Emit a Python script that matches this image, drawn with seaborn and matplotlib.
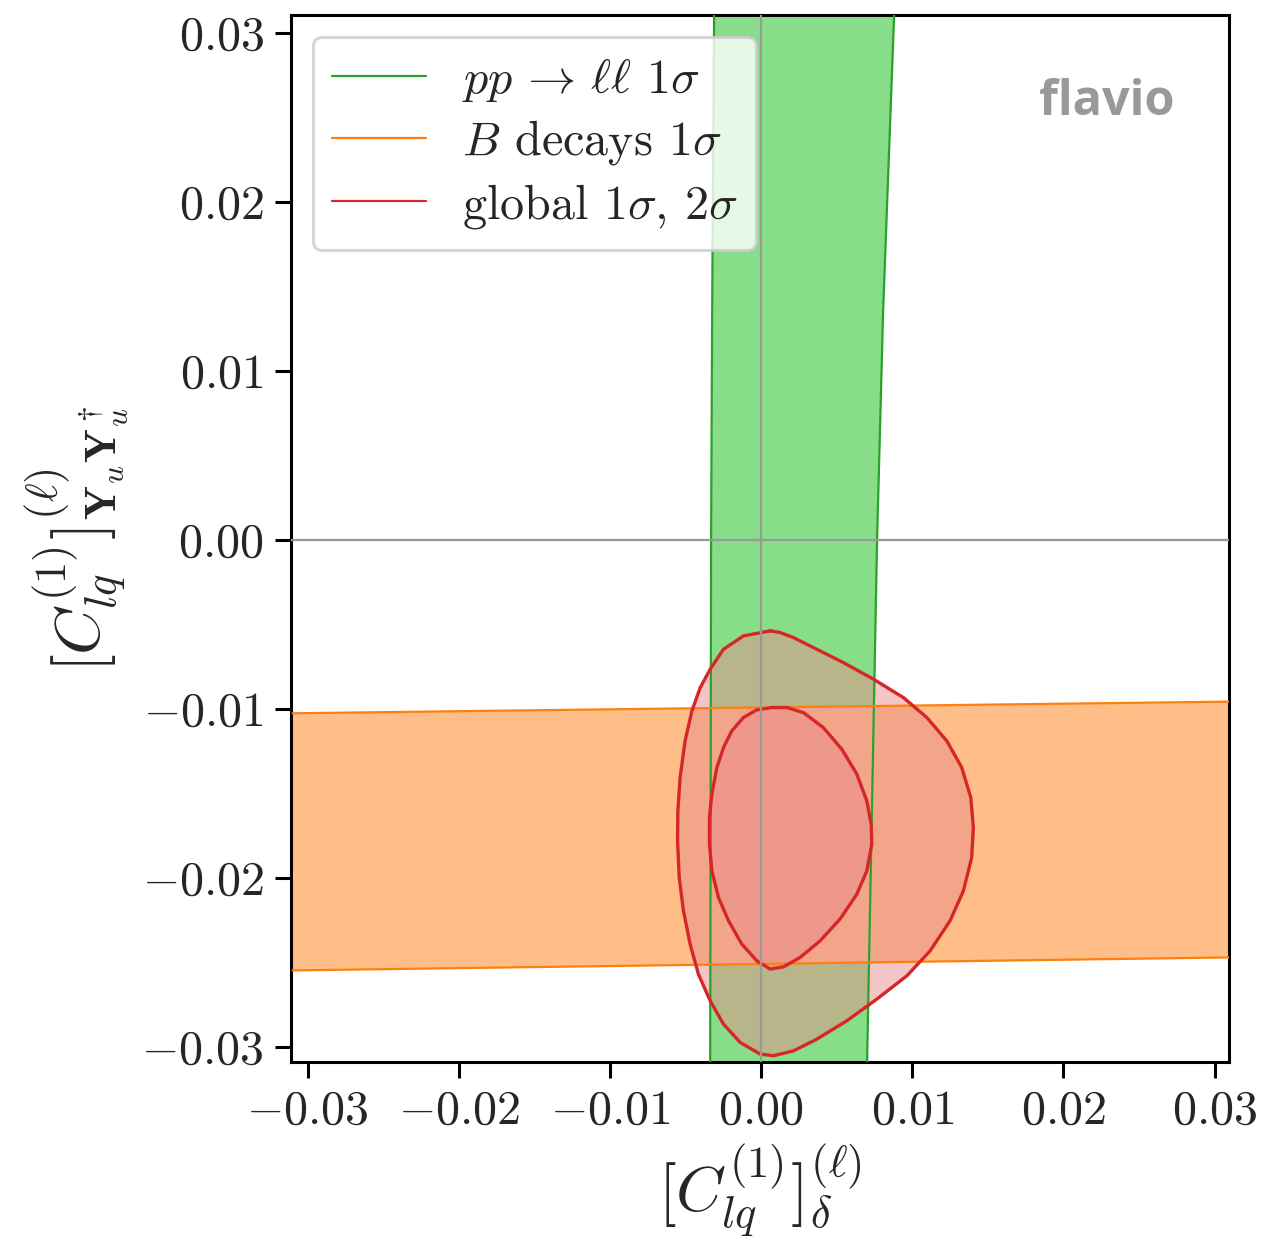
"""Recreate the flavio constraint plot in the C_lq plane with seaborn/matplotlib."""

import matplotlib

matplotlib.use("Agg")
import matplotlib.pyplot as plt
import pandas as pd
import seaborn as sns
from matplotlib.lines import Line2D

# pp -> ll band: boundaries in x at a few y values
GREEN_Y = [0.0311, 0.01355, 0.0, -0.0309]
GREEN_LEFT = [-0.00311, -0.00324, -0.00331, -0.00337]
GREEN_RIGHT = [0.00880, 0.00807, 0.00767, 0.00701]

# B decays band: boundaries in y at the axis edges
ORANGE_X = [-0.031, 0.031]
ORANGE_LOW = [-0.02548, -0.02471]
ORANGE_HIGH = [-0.01026, -0.00957]

# global fit contours (units of 1e-3)
OUTER_X = [0.60, -1.17, -2.49, -3.37, -4.03, -4.58, -5.03, -5.36, -5.51, -5.53,
           -5.42, -5.14, -4.70, -4.15, -3.37, -2.49, -1.39, -0.07, 0.82, 2.14,
           3.68, 5.67, 7.65, 9.64, 11.18, 12.50, 13.38, 13.93, 14.04, 13.87,
           13.27, 12.28, 10.96, 9.41, 7.43, 5.44, 3.68, 2.14, 1.26]
OUTER_Y = [-5.38, -5.68, -6.47, -7.65, -8.74, -10.12, -11.89, -14.06, -16.04, -17.81,
           -19.98, -21.95, -23.92, -25.70, -27.28, -28.66, -29.74, -30.43, -30.53, -30.24,
           -29.55, -28.46, -27.18, -25.80, -24.32, -22.54, -20.77, -18.80, -17.02, -15.25,
           -13.47, -11.89, -10.51, -9.33, -8.24, -7.26, -6.47, -5.78, -5.48]
INNER_X = [0.71, -0.29, -1.17, -1.94, -2.49, -2.93, -3.26, -3.42, -3.42, -3.26,
           -2.82, -2.16, -1.28, -0.29, 0.60, 1.48, 2.58, 3.90, 5.22, 6.33,
           6.99, 7.32, 7.28, 6.99, 6.33, 5.34, 4.12, 2.80, 1.70]
INNER_Y = [-9.92, -10.06, -10.51, -11.30, -12.29, -13.47, -15.05, -16.43, -18.01, -19.59,
           -21.17, -22.54, -23.92, -24.91, -25.40, -25.27, -24.71, -23.73, -22.44, -20.97,
           -19.59, -18.01, -16.82, -15.44, -13.86, -12.39, -11.11, -10.22, -9.92]

TICKS = [-0.03, -0.02, -0.01, 0.0, 0.01, 0.02, 0.03]
LEGEND_LABELS = [r"$pp\,\to\,\ell\ell$ $1\sigma$", r"$B$ decays $1\sigma$",
                 r"global $1\sigma$, $2\sigma$"]

GREEN_LINE, GREEN_FILL = "#2ca02c", "#88de88"
ORANGE_LINE, ORANGE_FILL = "#ff7f0e", "#ffbe87"
RED_LINE, RED_FILL = "#d62728", "#e98d8d"


def closed(xs, ys):
    xs = [v * 1e-3 for v in xs] + [xs[0] * 1e-3]
    ys = [v * 1e-3 for v in ys] + [ys[0] * 1e-3]
    return pd.DataFrame({"x": xs, "y": ys})


sns.set_theme(style="ticks")
plt.rcParams["mathtext.fontset"] = "cm"
plt.rcParams["font.family"] = ["cmr10", "DejaVu Sans"]
plt.rcParams["axes.unicode_minus"] = False
plt.rcParams["axes.formatter.use_mathtext"] = True

fig = plt.figure(figsize=(6.305, 6.25), dpi=200)
ax = fig.add_axes([0.2308, 0.1504, 0.7438, 0.8376])

# green band, orange band drawn over it
ax.fill_betweenx(GREEN_Y, GREEN_LEFT, GREEN_RIGHT, color=GREEN_FILL, lw=0, zorder=1)
ax.fill_between(ORANGE_X, ORANGE_LOW, ORANGE_HIGH, color=ORANGE_FILL, lw=0, zorder=2)

outer = closed(OUTER_X, OUTER_Y)
inner = closed(INNER_X, INNER_Y)
ax.fill(outer["x"], outer["y"], color=RED_FILL, alpha=0.5, lw=0, zorder=3)
ax.fill(inner["x"], inner["y"], color=RED_FILL, alpha=0.5, lw=0, zorder=3)

green = pd.DataFrame({"y": GREEN_Y, "l": GREEN_LEFT, "r": GREEN_RIGHT})
for col in ["l", "r"]:
    sns.lineplot(data=green, x=col, y="y", sort=False, estimator=None, color=GREEN_LINE,
                 lw=0.8, ax=ax, zorder=4)
orange = pd.DataFrame({"x": ORANGE_X, "lo": ORANGE_LOW, "hi": ORANGE_HIGH})
for col in ["lo", "hi"]:
    sns.lineplot(data=orange, x="x", y=col, color=ORANGE_LINE, lw=0.8, ax=ax, zorder=4)
for df in [outer, inner]:
    sns.lineplot(data=df, x="x", y="y", sort=False, estimator=None,
                 color=RED_LINE, lw=1.2, ax=ax, zorder=5)

ax.axhline(0, color="#999999", lw=0.8, zorder=6)
ax.axvline(0, color="#999999", lw=0.8, zorder=6)

ax.set_xlim(-0.0311, 0.03095)
ax.set_ylim(-0.0309, 0.03107)
ax.set_xticks(TICKS)
ax.set_yticks(TICKS)
fmt = plt.FuncFormatter(lambda v, _: f"${v:.2f}$" if abs(v) > 1e-9 else "$0.00$")
ax.xaxis.set_major_formatter(fmt)
ax.yaxis.set_major_formatter(fmt)
ax.tick_params(direction="out", length=5.8, width=1.1, labelsize=17.3, pad=4, color="black")
for s in ax.spines.values():
    s.set_linewidth(1.1)
    s.set_color("black")
    s.set_visible(True)

ax.set_xlabel(r"$[C_{lq}^{(1)}]^{(\ell)}_{\delta}$", fontsize=23, labelpad=3)
ax.set_ylabel(r"$[C_{lq}^{(1)}]^{(\ell)}_{\mathbf{Y}_u\mathbf{Y}_u^\dagger}$", fontsize=23, labelpad=4)

ax.text(0.942, 0.916, "flavio", transform=ax.transAxes, ha="right", va="center",
        fontsize=17.5, fontweight="bold", color="#999999", family=["Open Sans", "DejaVu Sans"])

handles = [Line2D([0], [0], color=c, lw=0.8) for c in [GREEN_LINE, ORANGE_LINE, RED_LINE]]
leg = ax.legend(handles, LEGEND_LABELS, loc="upper left", fontsize=17.3, frameon=True,
                framealpha=0.8, edgecolor="#cccccc", fancybox=True, handlelength=1.95,
                handletextpad=0.75, labelspacing=0.3, borderpad=0.4, borderaxespad=0.45)
leg.get_frame().set_linewidth(1.1)
leg.set_zorder(10)

fig.savefig("out.png", dpi=200)
